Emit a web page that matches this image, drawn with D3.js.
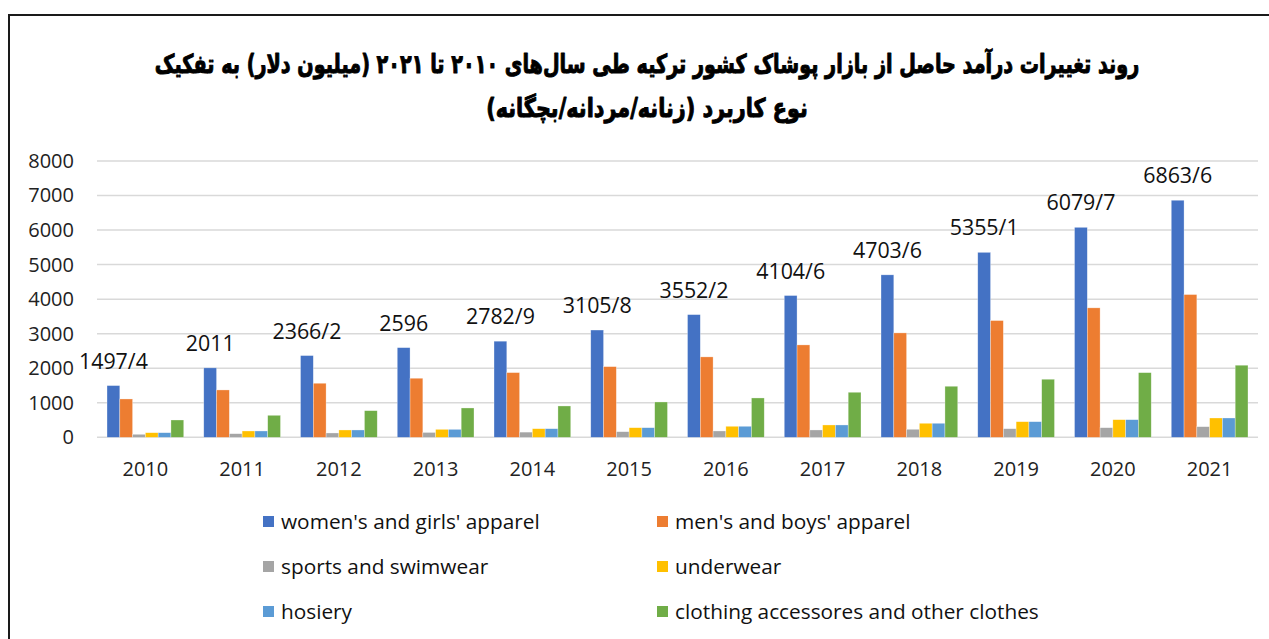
<!DOCTYPE html>
<html>
<head>
<meta charset="utf-8">
<script src="https://cdn.jsdelivr.net/npm/d3@7"></script>
<style>
  html, body { margin: 0; padding: 0; background: #fff; }
  svg { display: block; }
</style>
</head>
<body>
<svg id="chart" width="1269" height="639"></svg>
<script>
// Turkish apparel market revenue by product type, 2010–2021 (million USD)
const years = ["2010","2011","2012","2013","2014","2015","2016","2017","2018","2019","2020","2021"];
const seriesNames = [
  "women's and girls' apparel",
  "men's and boys' apparel",
  "sports and swimwear",
  "underwear",
  "hosiery",
  "clothing accessores and other clothes"
];
const womens      = [1497.4, 2011, 2366.2, 2596, 2782.9, 3105.8, 3552.2, 4104.6, 4703.6, 5355.1, 6079.7, 6863.6];
const mens        = [1110, 1371, 1565, 1710, 1873, 2046, 2328, 2675, 3023, 3380, 3748, 4133];
const sports      = [87, 104, 125, 140, 150, 162, 183, 212, 232, 249, 278, 307];
const underwear   = [133, 183, 212, 230, 249, 278, 319, 357, 406, 452, 510, 559];
const hosiery     = [133, 183, 212, 230, 249, 278, 319, 357, 406, 452, 510, 559];
const accessories = [501, 637, 771, 849, 907, 1023, 1139, 1304, 1478, 1681, 1872, 2087];
const womensLabels = ["1497/4","2011","2366/2","2596","2782/9","3105/8","3552/2","4104/6","4703/6","5355/1","6079/7","6863/6"];
const yTicks = [0, 1000, 2000, 3000, 4000, 5000, 6000, 7000, 8000];
const colors = ["#4472C4", "#ED7D31", "#A5A5A5", "#FFC000", "#5B9BD5", "#70AD47"];
const titleLines = [
  "روند تغییرات درآمد حاصل از بازار پوشاک کشور ترکیه طی سال‌های ۲۰۱۰ تا ۲۰۲۱ (میلیون دلار) به تفکیک",
  "نوع کاربرد (زنانه/مردانه/بچگانه)"
];
const titleWidths = [985, 322];

const allSeries = [womens, mens, sports, underwear, hosiery, accessories];
const rows = years.map((yr, i) => ({ year: yr, values: allSeries.map(s => s[i]), label: womensLabels[i] }));

const svg = d3.select("#chart");
const font = "'Open Sans', 'Noto Sans', sans-serif";

// frame
svg.append("path")
  .attr("d", "M9,639 V15 H1269")
  .attr("fill", "none")
  .attr("stroke", "#1a1a1a")
  .attr("stroke-width", 2);

// title: a heavy, narrow setting — each line is squeezed horizontally to its column width
const titleG = svg.append("g").selectAll("g").data(titleLines).join("g")
  .attr("transform", (d, i) => `translate(647,${73 + i * 44})`);
titleG.append("text")
  .attr("x", 0).attr("y", 0)
  .attr("text-anchor", "middle")
  .attr("direction", "rtl")
  .attr("font-family", "'DejaVu Sans', sans-serif")
  .attr("font-weight", "bold")
  .attr("font-size", 26)
  .attr("fill", "#000")
  .attr("stroke", "#000")
  .attr("stroke-width", 1)
  .attr("stroke-linejoin", "round")
  .text(d => d)
  .each(function (d, i) {
    const w = this.getComputedTextLength();
    const sx = Math.min(1, titleWidths[i] / w);
    d3.select(this.parentNode)
      .attr("transform", `translate(647,${73 + i * 44}) scale(${sx},1)`);
  });

const x0 = d3.scaleBand().domain(years).range([97, 1258]).paddingInner(0.207).paddingOuter(0.1035);
const x1 = d3.scaleBand().domain(d3.range(seriesNames.length)).range([0, x0.bandwidth()]);
const y = d3.scaleLinear().domain([0, 8000]).range([437.3, 161]);

// gridlines
svg.append("g").selectAll("line").data(yTicks).join("line")
  .attr("x1", 97).attr("x2", 1258)
  .attr("y1", d => y(d)).attr("y2", d => y(d))
  .attr("stroke", "#d9d9d9")
  .attr("stroke-width", 1.5);

// y axis labels
const yAxis = d3.axisLeft(y).tickValues(yTicks).tickSize(0).tickPadding(0).tickFormat(d3.format("d"));
const yg = svg.append("g").attr("transform", "translate(74,0)").call(yAxis);
yg.select(".domain").remove();
yg.selectAll("text").attr("font-family", font).attr("font-size", 20).attr("fill", "#222");

// x axis labels
const xAxis = d3.axisBottom(x0).tickSize(0).tickPadding(0);
const xg = svg.append("g").attr("transform", "translate(0,462)").call(xAxis);
xg.select(".domain").remove();
xg.selectAll("text").attr("font-family", font).attr("font-size", 20).attr("fill", "#222");

// bars
const groups = svg.append("g").selectAll("g").data(rows).join("g")
  .attr("transform", d => `translate(${x0(d.year)},0)`);
groups.selectAll("rect").data(d => d.values).join("rect")
  .attr("x", (d, i) => x1(i))
  .attr("y", d => y(d))
  .attr("width", x1.bandwidth())
  .attr("height", d => y(0) - y(d))
  .attr("fill", (d, i) => colors[i])
  .attr("stroke", "#fff")
  .attr("stroke-opacity", 0.5)
  .attr("stroke-width", 0.6);

// value labels on women's bars
groups.append("text")
  .attr("x", x1(0) + x1.bandwidth() / 2)
  .attr("y", d => y(d.values[0]) - 17)
  .attr("text-anchor", "middle")
  .attr("font-family", font)
  .attr("font-size", 21.4)
  .attr("fill", "#111")
  .text(d => d.label);

// legend
const legendPos = [[263, 522], [657, 522], [263, 567], [657, 567], [263, 612], [657, 612]];
const lg = svg.append("g").selectAll("g").data(seriesNames).join("g")
  .attr("transform", (d, i) => `translate(${legendPos[i][0]},${legendPos[i][1]})`);
lg.append("rect").attr("x", 0).attr("y", -6).attr("width", 11).attr("height", 11)
  .attr("fill", (d, i) => colors[i]);
lg.append("text").attr("x", 18).attr("y", 0).attr("dy", "0.35em")
  .attr("font-family", font).attr("font-size", 20.8).attr("fill", "#111")
  .text(d => d);
</script>
</body>
</html>
